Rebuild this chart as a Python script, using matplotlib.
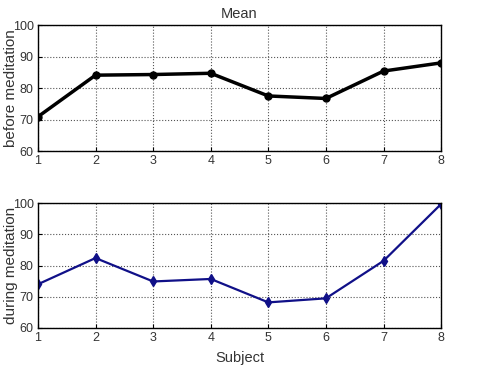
import matplotlib
matplotlib.use('Agg')
import matplotlib.pyplot as plt

subjects = [1, 2, 3, 4, 5, 6, 7, 8]
before = [70.9, 84.1, 84.3, 84.7, 77.5, 76.7, 85.4, 88.0]
during = [74.0, 82.4, 74.9, 75.7, 68.2, 69.5, 81.5, 99.7]
yticks = [60, 70, 80, 90, 100]

plt.rcParams['font.family'] = ['Liberation Sans', 'DejaVu Sans']

fig = plt.figure(figsize=(4.8, 3.74), dpi=100)
ax1 = fig.add_axes([0.079, 0.596, 0.84, 0.337])
ax2 = fig.add_axes([0.079, 0.123, 0.84, 0.334])

ax1.plot(subjects, before, '-o', color='black', linewidth=2.5, markersize=5)
ax2.plot(subjects, during, '-d', color='#101088', linewidth=1.6, markersize=5)

for ax in (ax1, ax2):
    ax.set_xlim(1, 8)
    ax.set_ylim(60, 100)
    ax.set_xticks(subjects)
    ax.set_yticks(yticks)
    ax.grid(True, linestyle=':', color='#555555', linewidth=0.8)
    ax.tick_params(direction='in', length=3, labelsize=9, pad=3,
                   labelcolor='#333333')
    for s in ax.spines.values():
        s.set_linewidth(1.0)

ax1.set_title('Mean', fontsize=10.5, pad=5, color='#333333')
ax1.set_ylabel('before meditation', fontsize=11, color='#333333')
ax2.set_ylabel('during meditation', fontsize=11, color='#333333')
ax2.set_xlabel('Subject', fontsize=10.5, labelpad=5, color='#333333')
ax1.yaxis.set_label_coords(-0.05, 0.5)
ax2.yaxis.set_label_coords(-0.05, 0.5)

fig.savefig('out.png', dpi=100)
